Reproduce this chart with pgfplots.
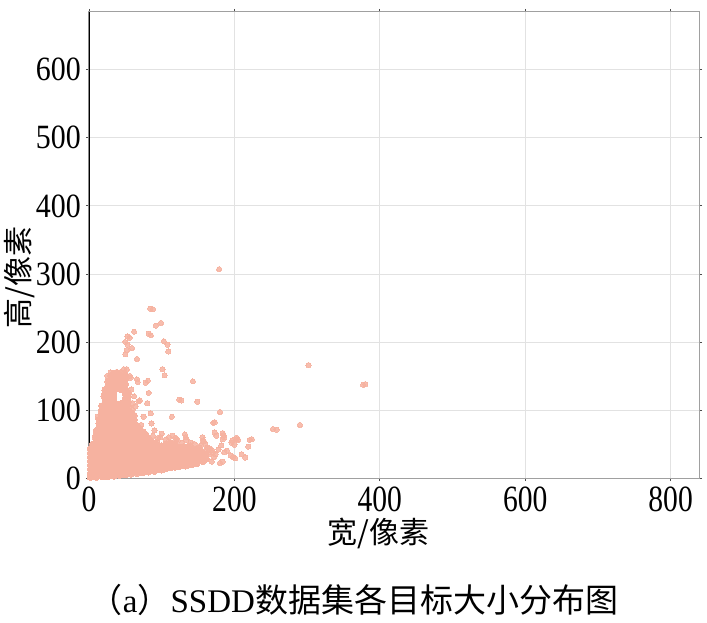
\documentclass[border=0pt]{standalone}
\usepackage{fontspec}
\setmainfont{Liberation Serif}
\newfontfamily\cjk{Noto Sans CJK SC}
\newfontfamily\ytf{Liberation Serif}[FakeStretch=0.88]
\newfontfamily\xtf{Liberation Serif}[FakeStretch=0.8]
\usepackage{pgfplots}
\pgfplotsset{compat=1.18}
\definecolor{ptc}{RGB}{246,178,160}
\definecolor{gridc}{RGB}{226,226,226}
\definecolor{boxc}{RGB}{160,160,160}
\begin{document}
\begin{tikzpicture}
\path[use as bounding box] (0,0) rectangle (707pt,622pt);
\begin{axis}[
  at={(89pt,144pt)}, anchor=south west,
  scale only axis, width=610pt, height=466pt,
  xmin=0, xmax=839, ymin=0, ymax=685,
  xtick={0,200,400,600,800}, ytick={0,100,200,300,400,500,600},
  grid=major, major grid style={gridc, line width=0.8pt},
  axis line style={draw=boxc, line width=1pt},
  tick align=outside, major tick length=3pt,
  tick style={black!70, line width=0.8pt},
  /pgf/number format/assume math mode=true,
  xticklabel style={font=\xtf\fontsize{37}{37}\selectfont, inner sep=0pt, yshift=-6pt},
  yticklabel style={font=\ytf\fontsize{34}{34}\selectfont, inner sep=0pt, xshift=-5pt},
  xlabel={\cjk 宽/像素}, ylabel={\cjk 高/像素},
  xlabel style={at={(axis description cs:0.474,-0.1190)}, anchor=center, font=\fontsize{30}{30}\selectfont, inner sep=0pt},
  ylabel style={at={(axis description cs:-0.1131,0.431)}, anchor=center, font=\fontsize{30}{30}\selectfont, inner sep=0pt},
]
% dense cluster
\addplot[only marks, color=ptc, mark=*, mark size=3.2pt, mark options={draw=ptc, fill=ptc, line width=0pt}] coordinates {
(2,1)(2,7)(2,13)(2,19)(2,25)(2,31)(2,37)(2,43)
(6,3)(6,9)(6,16)(6,23)(6,30)(6,37)(6,44)(6,50)
(10,1)(10,8)(10,15)(10,22)(10,29)(10,36)(10,43)(10,50)(10,57)(10,63)(10,69)
(14,4)(14,11)(14,18)(14,25)(14,32)(14,39)(14,46)(14,53)(14,60)(14,67)(14,74)(14,80)(14,86)
(18,2)(18,9)(18,16)(18,23)(18,30)(18,37)(18,44)(18,51)(18,58)(18,65)(18,72)(18,79)(18,86)(18,93)(18,100)(18,106)
(22,5)(22,12)(22,19)(22,26)(22,33)(22,40)(22,47)(22,54)(22,61)(22,68)(22,75)(22,82)(22,89)(22,96)(22,103)(22,110)(22,117)(22,124)(22,129)
(26,2)(26,9)(26,16)(26,23)(26,30)(26,37)(26,44)(26,51)(26,58)(26,65)(26,72)(26,79)(26,86)(26,93)(26,100)(26,107)(26,114)(26,121)(26,128)(26,135)(26,142)
(30,5)(30,12)(30,19)(30,26)(30,33)(30,40)(30,47)(30,54)(30,61)(30,68)(30,75)(30,82)(30,89)(30,96)(30,103)(30,110)(30,117)(30,124)(30,131)(30,138)(30,145)(30,150)
(34,3)(34,10)(34,17)(34,24)(34,31)(34,38)(34,45)(34,52)(34,59)(34,66)(34,73)(34,80)(34,87)(34,94)(34,101)(34,108)(34,115)(34,122)(34,129)(34,136)(34,143)(34,150)(34,154)
(38,6)(38,13)(38,20)(38,27)(38,34)(38,41)(38,48)(38,55)(38,62)(38,69)(38,76)(38,83)(38,90)(38,97)(38,104)(38,108)(38,133)(38,140)(38,147)(38,155)
(42,4)(42,11)(42,18)(42,25)(42,32)(42,39)(42,46)(42,53)(42,60)(42,67)(42,74)(42,81)(42,88)(42,95)(42,102)(42,108)(42,131)(42,138)(42,145)(42,152)
(46,7)(46,14)(46,21)(46,28)(46,35)(46,42)(46,49)(46,56)(46,63)(46,70)(46,77)(46,84)(46,91)(46,98)(46,105)(46,110)(46,130)(46,136)(46,142)(46,149)
(50,5)(50,12)(50,19)(50,26)(50,33)(50,40)(50,47)(50,54)(50,61)(50,68)(50,75)(50,82)(50,89)(50,96)(50,103)(50,110)(50,117)(50,124)(50,131)(50,138)(50,145)(50,152)
(54,8)(54,15)(54,22)(54,29)(54,36)(54,43)(54,50)(54,57)(54,64)(54,71)(54,78)(54,85)(54,92)(54,99)(54,106)(54,113)(54,120)(54,125)
(58,6)(58,13)(58,20)(58,27)(58,34)(58,41)(58,48)(58,55)(58,62)(58,69)(58,76)(58,83)(58,90)(58,96)
(62,9)(62,16)(62,23)(62,30)(62,37)(62,44)(62,51)(62,58)(62,65)(62,72)(62,79)(62,86)(62,92)
(66,7)(66,14)(66,21)(66,28)(66,35)(66,42)(66,49)(66,56)(66,63)(66,70)(66,77)
(70,10)(70,17)(70,24)(70,31)(70,38)(70,45)(70,52)(70,59)(70,66)(70,72)
(74,8)(74,15)(74,22)(74,29)(74,36)(74,43)(74,50)(74,57)(74,64)(74,68)
(78,11)(78,18)(78,25)(78,32)(78,39)(78,46)(78,53)(78,60)(78,64)
(82,9)(82,16)(82,23)(82,30)(82,37)(82,44)(82,51)(82,58)
(86,12)(86,19)(86,26)(86,33)(86,40)(86,47)(86,54)
(90,10)(90,17)(90,24)(90,31)(90,38)(90,45)(90,50)
(95,13)(95,20)(95,27)(95,34)(95,41)(95,48)
(100,12)(100,19)(100,26)(100,33)(100,40)(100,47)
(106,14)(106,21)(106,28)(106,35)(106,42)(106,50)
(112,15)(112,22)(112,29)(112,36)(112,43)(112,52)
(118,16)(118,23)(118,30)(118,37)(118,44)(118,50)
(124,17)(124,24)(124,31)(124,38)(124,45)
(130,18)(130,25)(130,32)(130,39)(130,46)
(136,19)(136,26)(136,33)(136,40)(136,46)
(142,20)(142,27)(142,34)(142,41)
(148,21)(148,28)(148,35)(148,42)
(155,25)(155,32)(155,39)
(161,28)(161,35)
};
% scattered points
\addplot[only marks, color=ptc, mark=*, mark size=2.6pt, mark options={draw=ptc, fill=ptc, line width=0pt, opacity=0.85}] coordinates {
(179,307)(84,249)(88,248)(92,224)(99,228)(62,215)(82,212)(85,210)(53,208)(56,206)
(50,200)(103,201)(108,196)(109,186)(53,196)(59,191)(52,188)(50,182)(66,175)(52,160)
(101,160)(104,151)(40,152)(39,148)(42,145)(56,150)(57,147)(66,145)(67,141)(81,143)
(78,140)(143,142)(82,125)(124,115)(127,114)(149,112)(70,114)(80,110)(68,113)(302,166)
(380,138)(377,137)(180,97)(114,90)(86,80)(171,81)(173,82)(253,72)(258,71)(290,78)
(175,62)(184,66)(186,60)(197,55)(200,49)(203,57)(224,57)(219,46)(215,30)(198,31)
(201,29)(172,31)(174,35)(166,43)(158,54)(160,50)(150,40)(152,45)(133,17)(120,57)
(122,55)(133,60)(134,56)(94,54)(92,52)(52,88)(68,74)(72,78)(95,59)(98,60)
(119,59)(132,64)(154,48)(157,55)(156,60)(162,41)(169,41)(157,31)(169,24)(173,67)
(184,57)(185,63)(182,48)(196,52)(203,59)(205,56)(221,56)(180,22)(184,24)(136,18)
(158,24)(152,39)(163,45)(145,50)(140,52)(110,60)(106,57)(88,62)(60,100)(64,105)
(75,90)(85,95)(62,120)(58,130)(48,160)(45,155)(30,155)(25,150)(20,120)(16,95)
(12,90)(8,60)(4,50)(60,110)(90,70)(100,65)(115,62)(128,52)(140,48)(165,35)
(170,37)(190,40)(195,33)(210,35)(178,42)(186,38)(44,156)
};
\draw[black, line width=1.2pt] (rel axis cs:0,0) -- (rel axis cs:0,1);
\end{axis}
\node[anchor=center, inner sep=0pt, font=\fontsize{33}{33}\selectfont] at (354pt,22pt) {{\cjk （}a{\cjk ）}SSDD{\cjk 数据集各目标大小分布图}};
\end{tikzpicture}
\end{document}
